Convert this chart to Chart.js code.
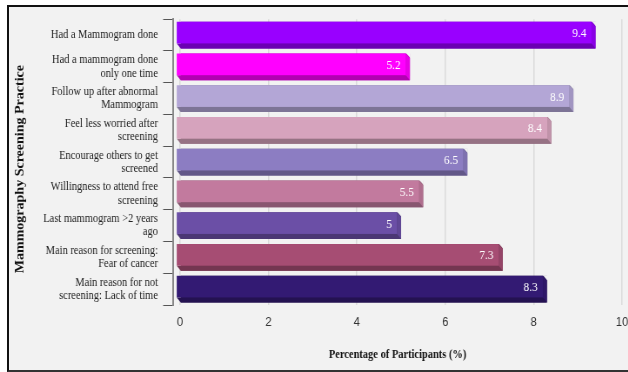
<!DOCTYPE html>
<html>
<head>
<meta charset="utf-8">
<script src="https://cdn.jsdelivr.net/npm/chart.js@4.4.0/dist/chart.umd.min.js"></script>
<style>
  html, body { margin: 0; padding: 0; background: #fff; overflow: hidden; }
  #frame { position: absolute; left: 7px; top: 5px; width: 640px; height: 363px;
           border-top: 2px solid #111; border-left: 2px solid #111; border-bottom: 2px solid #333;
           background: #f2f2f2; }
  /* picture is drawn wider and squeezed horizontally, like the reference */
  #wrap { position: absolute; left: 0; top: 0; width: 722px; height: 372px;
          transform: scaleX(0.87); transform-origin: 0 0; }
</style>
</head>
<body>
<div id="frame"></div>
<div id="wrap"><canvas id="mycanvas"></canvas></div>
<script>
var practices = [
    'Had a Mammogram done',
    ['Had a mammogram done', 'only one time'],
    ['Follow up after abnormal', 'Mammogram'],
    ['Feel less worried after', 'screening'],
    ['Encourage others to get', 'screened'],
    ['Willingness to attend free', 'screening'],
    ['Last mammogram >2 years', 'ago'],
    ['Main reason for screening:', 'Fear of cancer'],
    ['Main reason for not', 'screening: Lack of time']
];
var percent = [9.4, 5.2, 8.9, 8.4, 6.5, 5.5, 5, 7.3, 8.3];
var xTicks = [0, 2, 4, 6, 8, 10];

// front face / side bevel / bottom depth
var faceColors = ['#9900ff', '#ff00ff', '#b3a6d6', '#d6a3bd', '#8c7dc2', '#c27a9e', '#6b4fa6', '#a64d73', '#331a73'];
var sideColors = ['#8a00e6', '#e600e6', '#a195c1', '#c193aa', '#7e71af', '#af6e8e', '#604795', '#954568', '#2e1768'];
var darkColors = ['#6b00b3', '#b300b3', '#7d7496', '#967284', '#625788', '#885670', '#4b3774', '#743651', '#241251'];

var bevel3d = {
    id: 'bevel3d',
    afterDatasetsDraw: function(chart) {
        var ctx = chart.ctx;
        var meta = chart.getDatasetMeta(0);
        var d = 4.6, dy = 5;
        ctx.save();
        meta.data.forEach(function(bar, i) {
            var top = bar.y - bar.height / 2;
            var bot = bar.y + bar.height / 2;
            var x = bar.x, base = bar.base;
            // clear top-right corner
            ctx.fillStyle = '#f2f2f2';
            ctx.beginPath();
            ctx.moveTo(x - d, top - 0.5); ctx.lineTo(x + 0.5, top - 0.5); ctx.lineTo(x + 0.5, top + d);
            ctx.closePath(); ctx.fill();
            // bottom depth
            ctx.fillStyle = darkColors[i];
            ctx.beginPath();
            ctx.moveTo(base - d, bot - dy); ctx.lineTo(x - d, bot - dy); ctx.lineTo(x, bot); ctx.lineTo(base, bot);
            ctx.closePath(); ctx.fill();
            // right side
            ctx.fillStyle = sideColors[i];
            ctx.beginPath();
            ctx.moveTo(x - d, top); ctx.lineTo(x, top + d); ctx.lineTo(x, bot); ctx.lineTo(x - d, bot - dy);
            ctx.closePath(); ctx.fill();
            // front face
            ctx.fillStyle = faceColors[i];
            ctx.fillRect(base - d, top, x - base, bar.height - dy);
            // value label
            ctx.fillStyle = '#ffffff';
            ctx.font = '13px "Liberation Serif", "Times New Roman", serif';
            ctx.textAlign = 'right';
            ctx.textBaseline = 'middle';
            ctx.fillText(String(percent[i]), x - d - 6, top + (bar.height - dy) / 2 + 1);
        });
        ctx.restore();
    }
};

var ctx = document.getElementById('mycanvas');
var barGraph = new Chart(ctx, {
    type: 'bar',
    data: {
        labels: practices,
        datasets: [{
            label: 'Percentage',
            data: percent,
            backgroundColor: darkColors,
            borderWidth: 0,
            categoryPercentage: 1,
            barPercentage: 0.84
        }]
    },
    plugins: [bevel3d],
    options: {
        indexAxis: 'y',
        responsive: true,
        maintainAspectRatio: false,
        animation: false,
        events: [],
        layout: { padding: { top: 17, right: 7, left: 0, bottom: 0 } },
        plugins: { legend: { display: false }, tooltip: { enabled: false } },
        scales: {
            x: {
                min: -0.157,
                max: 10,
                afterBuildTicks: function(scale) {
                    scale.ticks = xTicks.map(function(v) { return { value: v }; });
                },
                afterFit: function(scale) {
                    scale.paddingRight = 0;
                    scale.paddingLeft = 0;
                    scale.height = 67;
                },
                grid: { color: '#d9d9d9', lineWidth: 1.5, drawTicks: false },
                border: { display: false },
                ticks: {
                    padding: 10,
                    color: '#333',
                    font: { family: '"Liberation Sans", Arial, sans-serif', size: 13 }
                },
                title: {
                    display: true,
                    text: 'Percentage of Participants (%)',
                    color: '#111',
                    padding: { top: 0, bottom: 10 },
                    font: { family: '"Liberation Serif", "Times New Roman", serif', size: 12, weight: 'bold' }
                }
            },
            y: {
                afterFit: function(scale) {
                    scale.width = 199;
                },
                grid: { drawOnChartArea: false, drawTicks: true, tickLength: 11.5, color: '#555', lineWidth: 1 },
                border: { display: true, color: '#888', width: 2 },
                ticks: {
                    padding: 6,
                    color: '#222',
                    font: { family: '"Liberation Serif", "Times New Roman", serif', size: 12, lineHeight: 1.1 }
                },
                title: {
                    display: true,
                    text: 'Mammography Screening Practice    ',
                    color: '#111',
                    padding: { top: 15, bottom: 0 },
                    font: { family: '"Liberation Serif", "Times New Roman", serif', size: 14, weight: 'bold' }
                }
            }
        }
    }
});
</script>
</body>
</html>
